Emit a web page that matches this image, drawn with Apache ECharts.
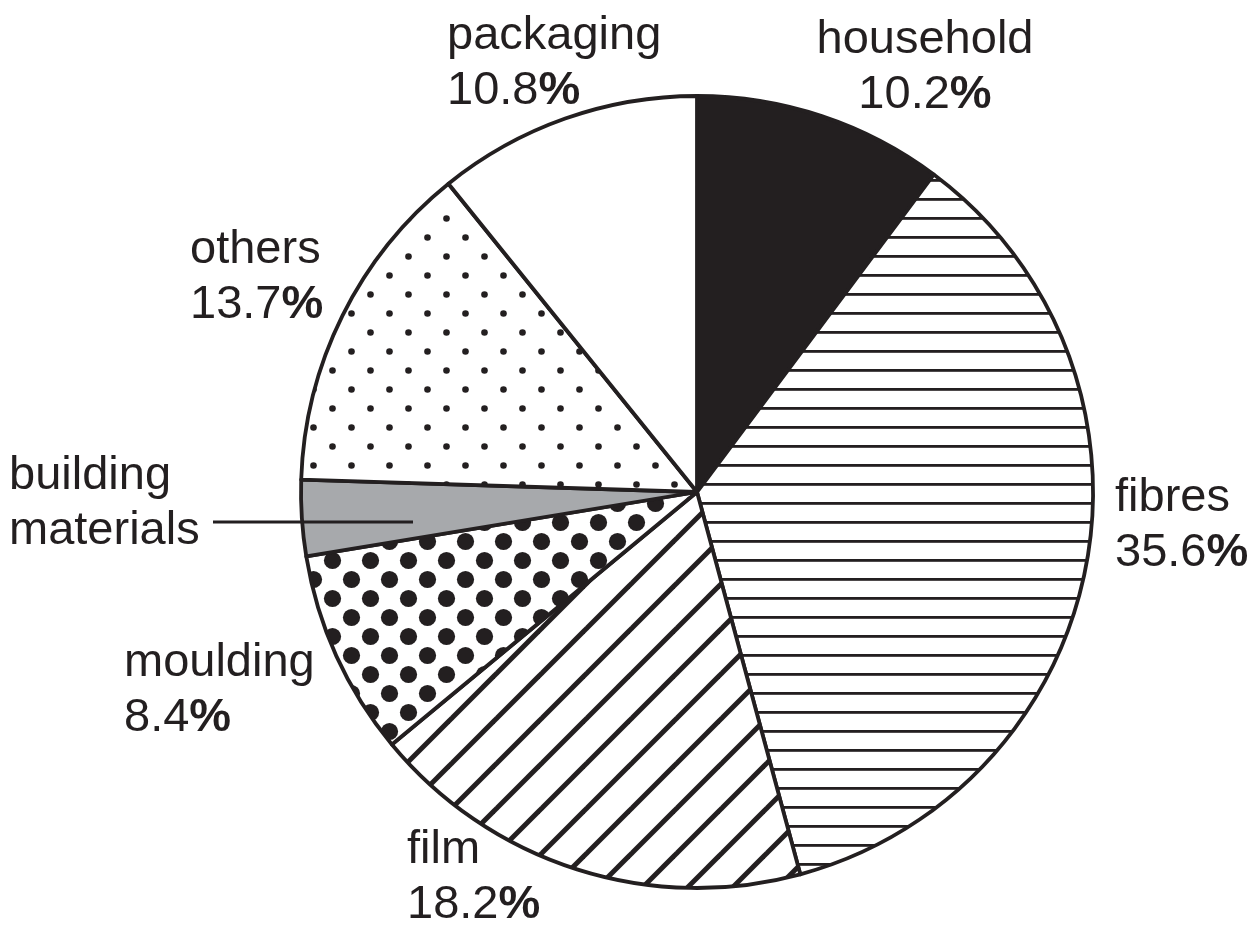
<!DOCTYPE html>
<html>
<head>
<meta charset="utf-8">
<script src="https://cdn.jsdelivr.net/npm/echarts@6/dist/echarts.min.js"></script>
<style>
html,body{margin:0;padding:0;background:#fff;}
#main{width:1251px;height:928px;}
</style>
</head>
<body>
<div id="main"></div>
<script>
// Data
var categories = ['household', 'fibres', 'film', 'moulding', 'building materials', 'others', 'packaging'];
var shares = [10.2, 35.6, 18.2, 8.4, 3.1, 13.7, 10.8];
var showPercent = [true, true, true, true, false, true, true];

// Layout (label anchors: x, top y, align)
var labelPos = [
  [925, 13, 'center'],
  [1115, 471, 'left'],
  [407, 823, 'left'],
  [124, 636, 'left'],
  [9, 449, 'left'],
  [190, 223, 'left'],
  [447, 9, 'left']
];

var INK = '#231f20';

function makeCanvas(w, h, draw) {
  var c = document.createElement('canvas');
  c.width = w; c.height = h;
  var ctx = c.getContext('2d');
  ctx.fillStyle = '#ffffff';
  ctx.fillRect(0, 0, w, h);
  ctx.fillStyle = INK; ctx.strokeStyle = INK;
  draw(ctx, w, h);
  return c;
}
var hLines = makeCanvas(19, 19, function (ctx, w, h) {
  ctx.fillRect(0, 8, w, 2.8);
});
var diag = makeCanvas(45, 45, function (ctx, w, h) {
  ctx.lineWidth = 5;
  for (var k = -1; k <= 1; k++) {
    ctx.beginPath();
    ctx.moveTo(k * w - 5, h + 5);
    ctx.lineTo(k * w + w + 5, -5);
    ctx.stroke();
  }
});
function dots(r) {
  return makeCanvas(38, 38, function (ctx) {
    var pts = [[9.5, 9.5], [28.5, 28.5]];
    pts.forEach(function (p) {
      ctx.beginPath(); ctx.arc(p[0], p[1], r, 0, Math.PI * 2); ctx.fill();
    });
  });
}
var bigDots = dots(8.6);
var smallDots = dots(3.3);

var fills = [
  INK,
  { image: hLines, repeat: 'repeat' },
  { image: diag, repeat: 'repeat' },
  { image: bigDots, repeat: 'repeat' },
  '#a7a9ac',
  { image: smallDots, repeat: 'repeat' },
  '#ffffff'
];

var data = categories.map(function (c, i) {
  return { name: c, value: shares[i], itemStyle: { color: fills[i] } };
});

var chart = echarts.init(document.getElementById('main'), null, { renderer: 'canvas' });
var FONT = "'Liberation Sans', Arial, Helvetica, sans-serif";
chart.setOption({
  backgroundColor: '#ffffff',
  animation: false,
  series: [{
    type: 'pie',
    center: [697, 492],
    radius: [0, 396],
    startAngle: 90,
    clockwise: true,
    silent: true,
    data: data,
    itemStyle: { borderColor: INK, borderWidth: 3.8, borderJoin: 'round' },
    labelLine: { show: false },
    label: {
      show: true,
      position: 'outside',
      overflow: 'none',
      width: 400,
      color: INK,
      fontFamily: FONT,
      fontSize: 47,
      lineHeight: 55,
      formatter: function (p) {
        var i = p.dataIndex;
        if (!showPercent[i]) {
          return p.name.split(' ').map(function (w) { return '{n|' + w + '}'; }).join('\n');
        }
        return '{n|' + p.name + '}\n{n|' + shares[i].toFixed(1) + '}{b|%}';
      },
      rich: {
        n: { fontFamily: FONT, fontSize: 47, lineHeight: 55, color: INK },
        b: { fontFamily: FONT, fontSize: 47, lineHeight: 55, color: INK, fontWeight: 'bold' }
      }
    },
    labelLayout: function (p) {
      var lp = labelPos[p.dataIndex];
      return { x: lp[0], y: lp[1], align: lp[2], verticalAlign: 'top', moveOverlap: null, hideOverlap: false };
    }
  }],
  graphic: [{
    type: 'line',
    shape: { x1: 213, y1: 522, x2: 413, y2: 522 },
    style: { stroke: INK, lineWidth: 3 },
    z: 100
  }]
});
</script>
</body>
</html>
